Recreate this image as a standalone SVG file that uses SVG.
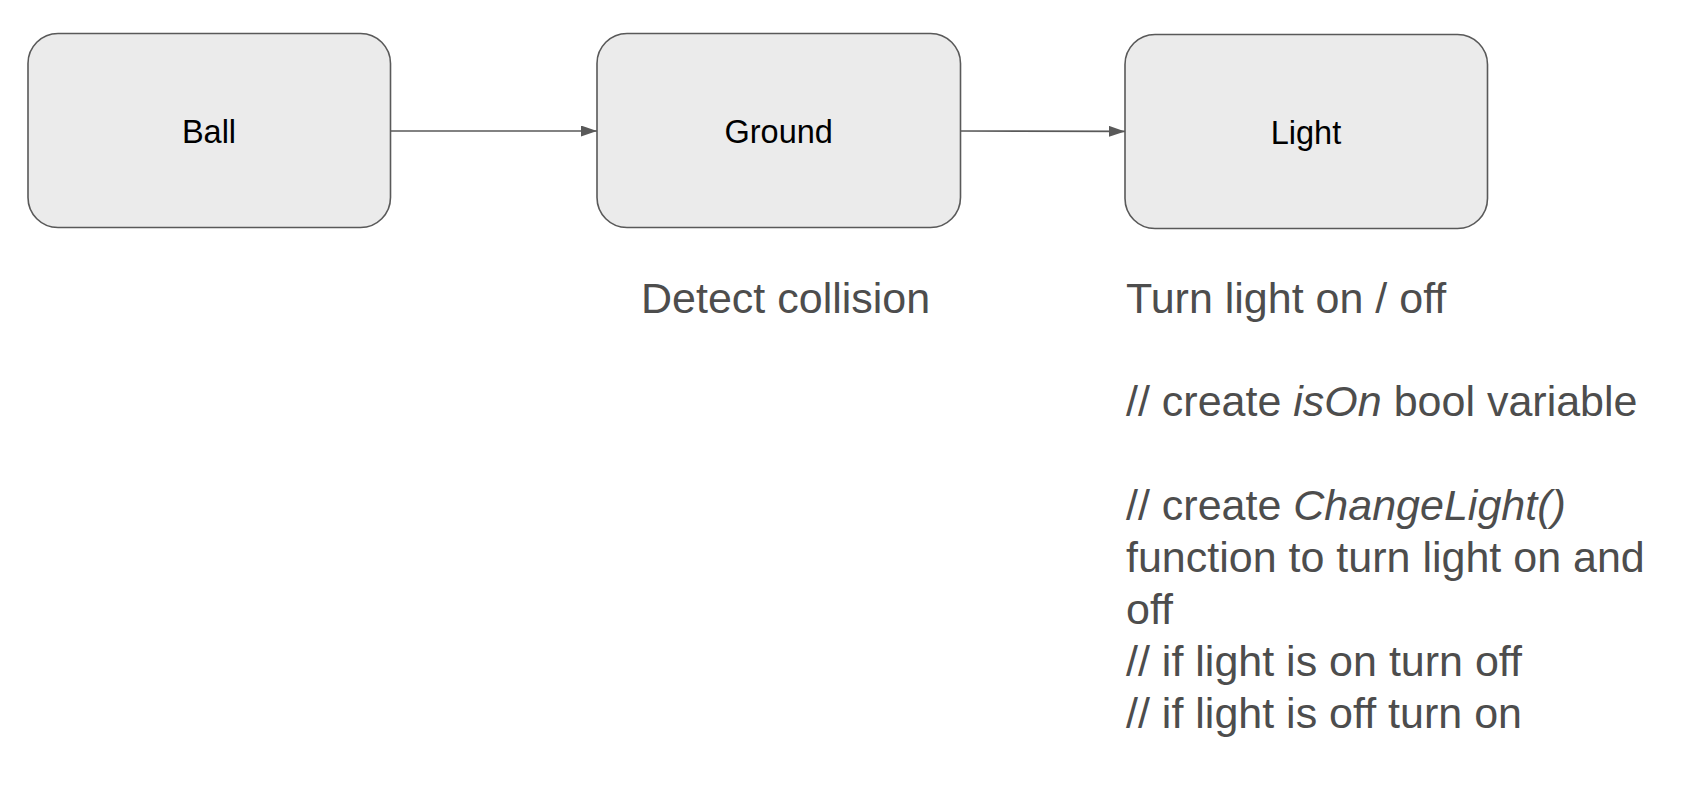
<svg xmlns="http://www.w3.org/2000/svg" width="1696" height="798" viewBox="0 0 1696 798">
<style>
.box{fill:#ebebeb;stroke:#595959;stroke-width:1.6}
.lbl{font-family:"Liberation Sans",Arial,sans-serif;font-size:32.5px;fill:#000;text-anchor:middle}
.note{font-family:"Liberation Sans",Arial,sans-serif;font-size:43px;fill:#4d4d4d}
.conn{stroke:#595959;stroke-width:1.6;fill:none}
</style>
<defs>
<marker id="ah" viewBox="0 0 16 11" refX="16" refY="5.5" markerWidth="16" markerHeight="11" markerUnits="userSpaceOnUse" orient="auto">
<path d="M0,0 L16,5.5 L0,11 Z" fill="#595959"/>
</marker>
</defs>
<rect width="1696" height="798" fill="#fff"/>
<g id="connectors">
<line class="conn" x1="390.5" y1="131" x2="597" y2="131" marker-end="url(#ah)"/>
<line class="conn" x1="960.5" y1="131" x2="1125" y2="131.4" marker-end="url(#ah)"/>
</g>
<g id="ball">
<rect class="box" x="28" y="33.5" width="362.5" height="194" rx="30" ry="30"/>
<text class="lbl" x="209" y="143.3">Ball</text>
</g>
<g id="ground">
<rect class="box" x="597" y="33.5" width="363.5" height="194" rx="30" ry="30"/>
<text class="lbl" x="778.7" y="143.3">Ground</text>
</g>
<g id="light">
<rect class="box" x="1125" y="34.5" width="362.5" height="194" rx="30" ry="30"/>
<text class="lbl" x="1306" y="144.3">Light</text>
</g>
<g id="ground-note">
<text class="note" x="641" y="312.7">Detect collision</text>
</g>
<g id="light-note">
<text class="note" x="1126" y="312.7">Turn light on / off</text>
<text class="note" x="1126" y="416.3">// create <tspan font-style="italic">isOn</tspan> bool variable</text>
<text class="note" x="1126" y="520">// create <tspan font-style="italic">ChangeLight()</tspan></text>
<text class="note" x="1126" y="572">function to turn light on and</text>
<text class="note" x="1126" y="624">off</text>
<text class="note" x="1126" y="676">// if light is on turn off</text>
<text class="note" x="1126" y="728">// if light is off turn on</text>
</g>
</svg>
